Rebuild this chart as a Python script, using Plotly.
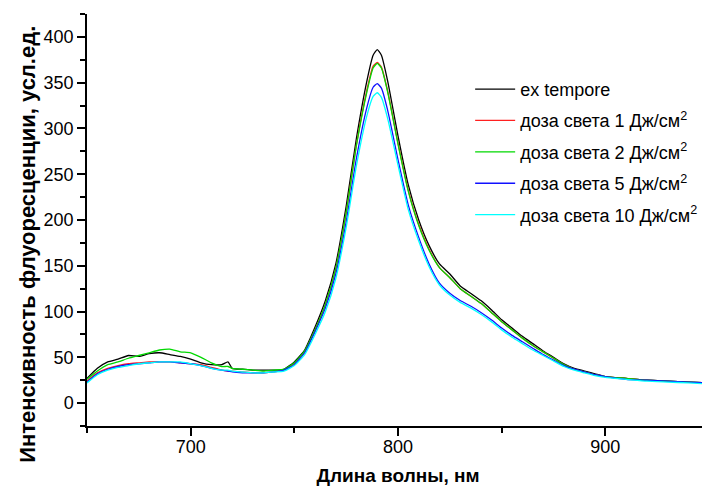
import plotly.graph_objects as go

wavelength = [650, 655, 660, 665, 670, 675, 680, 685, 690, 695, 700, 705, 710, 715, 718, 720,
              725, 730, 735, 740, 745, 750, 755, 760, 765, 770, 775, 780, 785, 788, 790, 792,
              795, 800, 805, 810, 815, 820, 825, 830, 835, 840, 845, 850, 855, 860, 865, 870,
              875, 880, 885, 890, 895, 900, 910, 920, 930, 940, 950]

ex_tempore = [27, 38, 45, 48, 52, 51, 54, 55, 53, 51, 48, 44, 42, 42, 45, 38,
              37, 36, 36, 36, 37, 45, 58, 83, 112, 152, 215, 290, 352, 380, 386, 380,
              352, 292, 238, 200, 172, 152, 141, 128, 120, 112, 102, 91, 82, 73, 65, 57,
              50, 43, 38, 35, 32, 29, 27, 25, 24, 23, 22]

dose_1 = [24, 33, 38, 41, 43, 44, 45, 45, 45, 44, 43, 42, 39, 36, 35, 35,
          34, 33, 33, 34, 36, 43, 56, 80, 108, 147, 208, 283, 342, 368, 372, 367,
          341, 284, 232, 195, 168, 148, 137, 125, 117, 109, 99, 89, 80, 71, 63, 56,
          49, 42, 37, 34, 31, 29, 27, 25, 24, 23, 22]

dose_2 = [26, 35, 42, 45, 49, 52, 55, 58, 59, 56, 55, 50, 44, 40, 40, 38,
          37, 36, 35, 36, 37, 44, 57, 80, 108, 147, 208, 282, 340, 366, 371, 366,
          340, 283, 231, 194, 167, 148, 137, 125, 117, 109, 99, 89, 80, 71, 63, 56,
          49, 42, 37, 34, 31, 29, 27, 25, 24, 23, 22]

dose_5 = [23, 32, 37, 40, 42, 43, 44, 45, 45, 44, 43, 41, 38, 36, 35, 34,
          33, 33, 33, 34, 36, 42, 55, 78, 104, 141, 198, 268, 323, 345, 349, 344,
          320, 266, 216, 181, 152, 131, 120, 112, 106, 99, 91, 82, 74, 67, 60, 53,
          47, 41, 37, 34, 31, 29, 26, 25, 24, 23, 22]

dose_10 = [22, 31, 36, 39, 41, 43, 44, 45, 45, 45, 43, 41, 38, 36, 36, 35,
           34, 33, 33, 34, 35, 41, 53, 75, 100, 136, 192, 260, 314, 335, 339, 334,
           311, 260, 211, 177, 149, 129, 118, 110, 104, 97, 89, 80, 72, 65, 58, 52,
           46, 40, 36, 33, 30, 28, 26, 24, 23, 22, 21]

series_names = ["ex tempore",
                "доза света 1 Дж/см<sup>2</sup>",
                "доза света 2 Дж/см<sup>2</sup>",
                "доза света 5 Дж/см<sup>2</sup>",
                "доза света 10 Дж/см<sup>2</sup>"]
series_values = [ex_tempore, dose_1, dose_2, dose_5, dose_10]
series_colors = ["#000000", "#ff2020", "#00d800", "#1010ff", "#00ffff"]

x_title = "Длина волны, нм"
y_title = "Интенсивность флуоресценции, усл.ед."

FONT = "Liberation Sans, Arial, sans-serif"

fig = go.Figure()
for i, (name, vals, col) in enumerate(zip(series_names, series_values, series_colors)):
    fig.add_trace(go.Scatter(
        x=wavelength, y=vals, name=name, mode="lines",
        line=dict(color=col, width=1.3, shape="spline", smoothing=0.5),
        legendgroup=f"g{i}",
    ))

# The page body has an 8px margin, so the figure is 8px smaller than the window
fig.update_layout(
    width=702, height=483,
    margin=dict(l=79, r=1, t=6, b=65),
    paper_bgcolor="white", plot_bgcolor="white",
    font=dict(family=FONT, size=18, color="black"),
    showlegend=True,
    legend=dict(x=0.616, y=0.862, xanchor="left", yanchor="top",
                bgcolor="rgba(0,0,0,0)", font=dict(size=18, family=FONT),
                tracegroupgap=5, itemwidth=40),
    xaxis=dict(range=[650, 950], tick0=0, dtick=100, showgrid=False, zeroline=False,
               automargin=False,
               showline=True, linecolor="black", linewidth=1.5,
               ticks="outside", ticklen=8, tickwidth=1.5, tickcolor="black",
               ticklabelstandoff=-4,
               minor=dict(dtick=50, tick0=0, ticks="outside", ticklen=5, tickwidth=1.5,
                          tickcolor="black", showgrid=False),
               title=dict(text=x_title, font=dict(size=19, family=FONT, weight="bold"),
                          standoff=12)),
    yaxis=dict(range=[-25, 425], tick0=0, dtick=50, showgrid=False, zeroline=False,
               automargin=False,
               showline=True, linecolor="black", linewidth=1.5,
               ticks="outside", ticklen=8, tickwidth=1.5, tickcolor="black",
               minor=dict(dtick=25, tick0=0, ticks="outside", ticklen=5, tickwidth=1.5,
                          tickcolor="black", showgrid=False)),
    annotations=[dict(text=y_title, xref="paper", yref="paper", x=-0.095, y=0.442,
                      xanchor="center", yanchor="middle", textangle=-90, showarrow=False,
                      font=dict(size=22, family=FONT, weight="bold", color="black"))],
)

fig.write_html("out.html")
